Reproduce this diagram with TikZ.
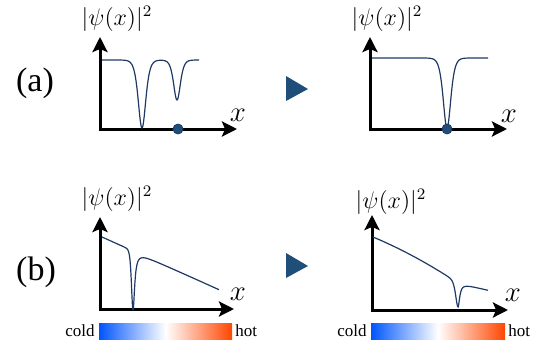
\documentclass[tikz,border=0pt]{standalone}
\usepackage[no-math]{fontspec}
\setmainfont{Liberation Serif}
\usepackage{xcolor}
\usetikzlibrary{arrows.meta}
\definecolor{wavecol}{HTML}{1F3864}
\definecolor{markcol}{HTML}{1F4E79}
\definecolor{coldcol}{RGB}{0,85,255}
\definecolor{hotcol}{RGB}{255,70,0}

\begin{document}
\begin{tikzpicture}[x=0.5pt,y=-0.5pt,
  axis/.style={line width=1.5pt,{Stealth[length=7.5pt,width=7.5pt,inset=1.5pt]}-{Stealth[length=7.5pt,width=7.5pt,inset=1.5pt]}},
  wave/.style={wavecol,line width=0.6pt,samples=240,smooth},
  tag/.style={font=\fontsize{17}{19}\selectfont},
  psilbl/.style={font=\fontsize{11.5}{13}\selectfont},
  xlbl/.style={font=\fontsize{14}{15}\selectfont},
  barlbl/.style={font=\fontsize{8.5}{10}\selectfont,inner sep=1pt},
  tempbar/.style={left color=coldcol,right color=hotcol,middle color=white}]
  \useasboundingbox (0,0) rectangle (545,353);
  % axes of the four panels
  \coordinate (oA1) at (100,129); \coordinate (yA1) at (100,37);  \coordinate (xA1) at (237,129);
  \coordinate (oA2) at (370,129); \coordinate (yA2) at (370,37);  \coordinate (xA2) at (507,129);
  \coordinate (oB1) at (100,309); \coordinate (yB1) at (100,217); \coordinate (xB1) at (234,309);
  \coordinate (oB2) at (372,310); \coordinate (yB2) at (372,215); \coordinate (xB2) at (508,310);
  \draw[axis] (yA1) -- (oA1) -- (xA1);
  \draw[axis] (yA2) -- (oA2) -- (xA2);
  \draw[axis] (yB1) -- (oB1) -- (xB1);
  \draw[axis] (yB2) -- (oB2) -- (xB2);
  \node[tag] (tagA) at (35,83) {(a)};
  \node[tag] (tagB) at (36,272) {(b)};
  \node[psilbl] (psiA1) at (117,19) {$|\psi(x)|^2$};
  \node[psilbl] (psiA2) at (387,19) {$|\psi(x)|^2$};
  \node[psilbl] (psiB1) at (117,199) {$|\psi(x)|^2$};
  \node[psilbl] (psiB2) at (391,202) {$|\psi(x)|^2$};
  \node[xlbl] (labxA1) at (238,115) {$x$};
  \node[xlbl] (labxA2) at (509,116) {$x$};
  \node[xlbl] (labxB1) at (238,294) {$x$};
  \node[xlbl] (labxB2) at (513,295) {$x$};
  % densities
  \draw[wave,domain=102:199] plot (\x,{60+68/cosh(min(abs(\x-142)/5,5))^2+40/cosh(min(abs(\x-177)/4.5,5))^2});
  \draw[wave,domain=372:488] plot (\x,{58+70/cosh(min(abs(\x-447)/5,5))^2});
  \draw[wave,domain=102:219] plot (\x,{237+0.45*(\x-102)+(\x<133 ? 59/cosh(min(abs(\x-133)/2,5))^2 : 59/(1+min(abs(\x-133)/2,60)^2))});
  \draw[wave,domain=373:488] plot (\x,{(\x<458 ? 237+0.42*(\x-373)+0.00143*(\x-373)^2 : 283+0.24*(\x-458))+(\x<458 ? 24/cosh(min(abs(\x-458)/3,5))^2 : 24/(1+min(abs(\x-458)/2,60)^2))});
  % dark solitons at rest
  \filldraw[fill=markcol,draw=wavecol,line width=0.4pt] (178,129) circle (2.5pt);
  \filldraw[fill=markcol,draw=wavecol,line width=0.4pt] (447,129) circle (2.5pt);
  % step markers
  \fill[markcol] (286,76) -- (286,101) -- (308,89) -- cycle;
  \fill[markcol] (286,253) -- (286,278) -- (308,266) -- cycle;
  % temperature bars
  \shade[tempbar] (99,323) rectangle (232,339);
  \shade[tempbar] (371,323) rectangle (505,339);
  \node[barlbl,anchor=east] (coldB1) at (97,331) {cold};
  \node[barlbl,anchor=west] (hotB1) at (233,331) {hot};
  \node[barlbl,anchor=east] (coldB2) at (369,331) {cold};
  \node[barlbl,anchor=west] (hotB2) at (506,331) {hot};
\end{tikzpicture}
\end{document}
